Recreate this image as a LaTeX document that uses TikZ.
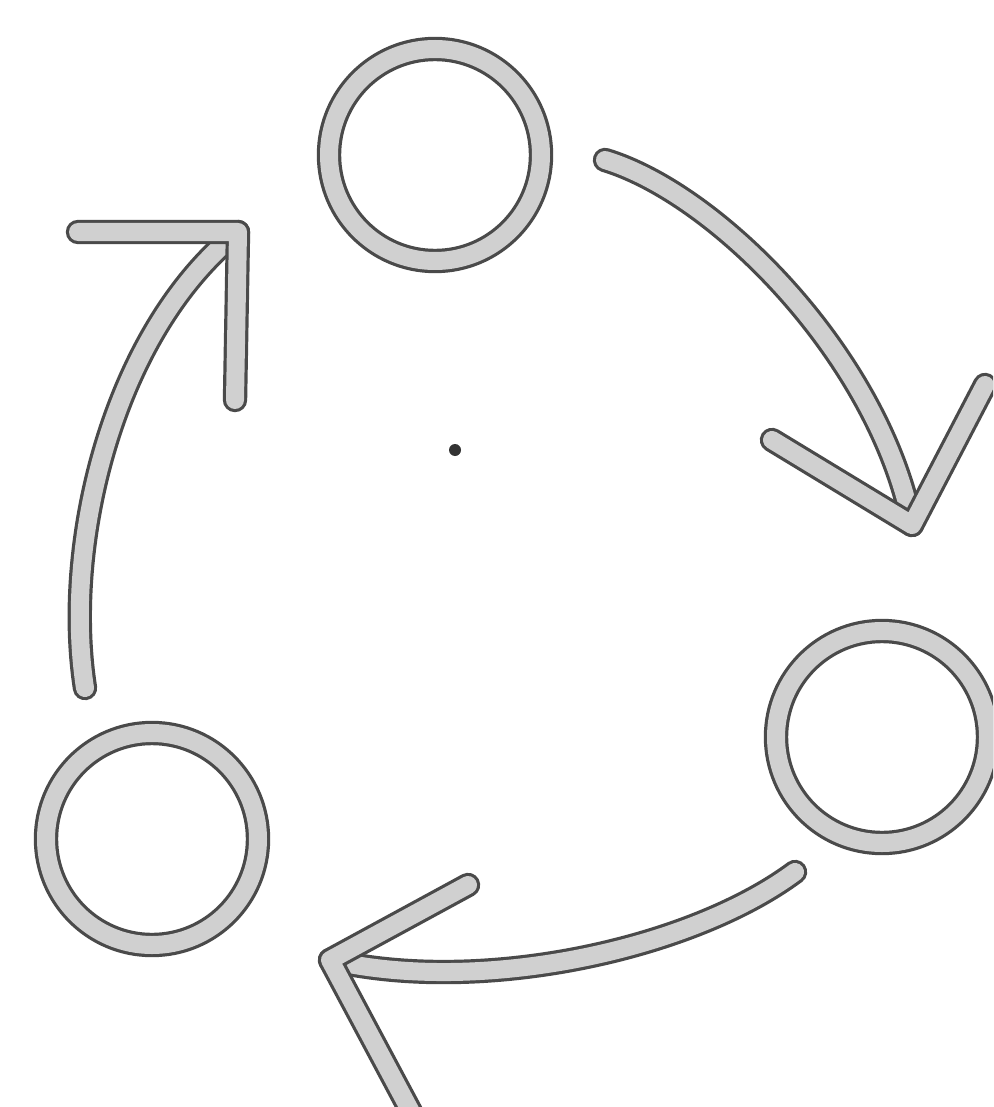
\documentclass[tikz,border=0pt]{standalone}
\usepackage{tikz}
\usepackage{xcolor}
\definecolor{SketchInk}{HTML}{4A4A4A}
\definecolor{SketchFill}{HTML}{D0D0D0}
\begin{document}
\begin{tikzpicture}[
    x=0.5pt, y=-0.5pt,
    sketch/.style={draw=SketchInk,line width=1.6pt,double=SketchFill,double distance=9pt,line cap=round,line join=round},
    ring/.style={sketch,circle,minimum size=106pt,inner sep=0pt}
  ]
  \useasboundingbox (0,0) rectangle (993,1107);
  \clip (0,0) rectangle (993,1107);
  % the three stations
  \node[ring] (top) at (435,155) {};
  \node[ring] (right) at (882,737) {};
  \node[ring] (left) at (152,839) {};
  \fill[black!80] (455,450) circle[radius=6] coordinate (mid);
  % arrow from top to right
  \coordinate (a1s) at (605,160);
  \coordinate (a1t) at (912,525);
  \coordinate (a1l) at (772,440);
  \coordinate (a1r) at (985,385);
  \draw[sketch] (a1s) .. controls (720,195) and (880,360) .. (a1t);
  \draw[sketch] (a1l) -- (a1t) -- (a1r);
  % arrow from right to left
  \coordinate (a2s) at (795,872);
  \coordinate (a2t) at (330,960);
  \coordinate (a2u) at (468,885);
  \coordinate (a2d) at (418,1125);
  \draw[sketch] (a2s) .. controls (690,950) and (480,995) .. (a2t);
  \draw[sketch] (a2u) -- (a2t) -- (a2d);
  % arrow from left to top
  \coordinate (a3s) at (85,688);
  \coordinate (a3t) at (238,232);
  \coordinate (a3l) at (78,232);
  \coordinate (a3d) at (235,400);
  \draw[sketch] (a3s) .. controls (62,540) and (115,330) .. (a3t);
  \draw[sketch] (a3l) -- (a3t) -- (a3d);
\end{tikzpicture}
\end{document}
